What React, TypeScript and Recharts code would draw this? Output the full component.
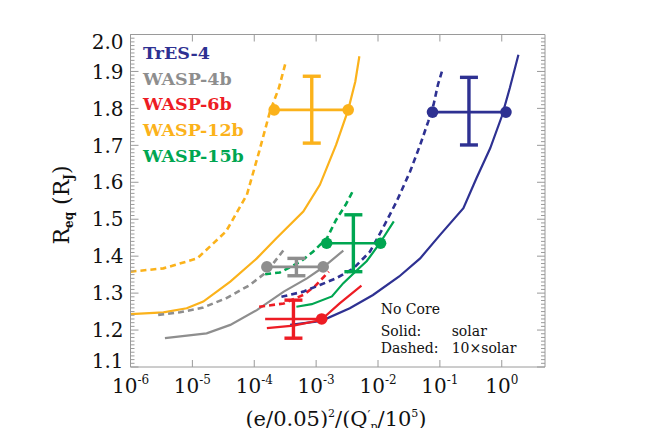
import { ComposedChart, ErrorBar, Line, Scatter, XAxis, YAxis } from "recharts";

const BLUE = "#2e3192";
const GRAY = "#8e8e8e";
const RED = "#ed1c24";
const ORANGE = "#fbb21b";
const GREEN = "#00a651";
const AXIS = "#9a9a9a";
const SERIF = "'DejaVu Serif', serif";

// axis ticks
const xTicks = [1e-6, 1e-5, 1e-4, 1e-3, 1e-2, 1e-1, 1];
const xTickExponents = ["-6", "-5", "-4", "-3", "-2", "-1", "0"];
const yMajorTicks = [1.1, 1.2, 1.3, 1.4, 1.5, 1.6, 1.7, 1.8, 1.9, 2.0];

const yAllTicks: number[] = [];
for (let i = 0; i < yMajorTicks.length - 1; i++) {
  for (let j = 0; j < 10; j++) yAllTicks.push(+(yMajorTicks[i] + j * 0.01).toFixed(2));
}
yAllTicks.push(2.0);

// model curves  [x, R_eq]
const tres4Solar: [number, number][] = [
  [3.8e-4, 1.214], [1.0e-3, 1.223], [1.3e-3, 1.227], [3.5e-3, 1.259], [8.3e-3, 1.295],
  [2.2e-2, 1.345], [4.8e-2, 1.394], [0.1, 1.457], [0.24, 1.53], [0.39, 1.611],
  [0.65, 1.692], [1.0, 1.778], [1.35, 1.855], [1.86, 1.945],
];
const tres4Heavy: [number, number][] = [
  [2.75e-4, 1.29], [6.2e-4, 1.304], [1.15e-3, 1.322], [2.1e-3, 1.34], [4.0e-3, 1.367],
  [7.4e-3, 1.412], [1.2e-2, 1.476], [2.0e-2, 1.548], [3.3e-2, 1.629], [4.8e-2, 1.701],
  [6.5e-2, 1.765], [7.9e-2, 1.81], [9.3e-2, 1.864], [0.112, 1.909],
];
const wasp4Solar: [number, number][] = [
  [3.6e-6, 1.178], [1.7e-5, 1.191], [4.1e-5, 1.214], [1.1e-4, 1.254], [3.0e-4, 1.304],
  [7.1e-4, 1.34], [1.3e-3, 1.37], [2.75e-3, 1.415],
];
const wasp4Heavy: [number, number][] = [
  [2.8e-6, 1.241], [6.3e-6, 1.248], [1.5e-5, 1.261], [3.5e-5, 1.286], [8.5e-5, 1.322],
  [1.6e-4, 1.358], [3.0e-4, 1.417],
];
const wasp6Solar: [number, number][] = [
  [1.6e-4, 1.205], [4.3e-4, 1.212], [1.2e-3, 1.227], [2.4e-3, 1.272], [5.4e-3, 1.32],
];
const wasp6Heavy: [number, number][] = [
  [1.2e-4, 1.263], [3.0e-4, 1.272], [6.2e-4, 1.295], [9.5e-4, 1.318], [1.6e-3, 1.358],
];
const wasp12Solar: [number, number][] = [
  [1e-6, 1.243], [3.4e-6, 1.248], [8.1e-6, 1.259], [1.5e-5, 1.277], [4.1e-5, 1.331],
  [1.1e-4, 1.394], [2.3e-4, 1.449], [6.2e-4, 1.521], [1.15e-3, 1.593], [2.1e-3, 1.701],
  [3.3e-3, 1.796], [4.3e-3, 1.873], [5.0e-3, 1.941],
];
const wasp12Heavy: [number, number][] = [
  [1e-6, 1.358], [3.4e-6, 1.367], [1.2e-5, 1.394], [3.5e-5, 1.467], [7.6e-5, 1.566],
  [1.2e-4, 1.683], [1.8e-4, 1.792], [2.5e-4, 1.855], [3.2e-4, 1.923],
];
const wasp15Solar: [number, number][] = [
  [4.8e-4, 1.263], [8.5e-4, 1.27], [1.8e-3, 1.291], [2.75e-3, 1.327], [4.3e-3, 1.358],
  [6.6e-3, 1.387], [1.07e-2, 1.435], [1.8e-2, 1.494],
];
const wasp15Heavy: [number, number][] = [
  [1.5e-4, 1.351], [2.6e-4, 1.356], [5.6e-4, 1.385], [8.9e-4, 1.412], [1.5e-3, 1.449],
  [2.1e-3, 1.498], [3.0e-3, 1.539], [4.0e-3, 1.579],
];

// observed radii with ranges
const tres4Obs = { y: 1.79, xLo: 0.076, xHi: 1.17, xMid: 0.295, yLo: 1.701, yHi: 1.884 };
const wasp4Obs = { y: 1.371, xLo: 1.6e-4, xHi: 1.3e-3, xMid: 4.8e-4, yLo: 1.347, yHi: 1.394 };
const wasp6Obs = { y: 1.23, xLo: 1.5e-4, xHi: 1.23e-3, xMid: 4.3e-4, yLo: 1.178, yHi: 1.281 };
const wasp12Obs = { y: 1.796, xLo: 2.1e-4, xHi: 3.3e-3, xMid: 8.5e-4, yLo: 1.706, yHi: 1.887 };
const wasp15Obs = { y: 1.435, xLo: 1.48e-3, xHi: 1.1e-2, xMid: 4.0e-3, yLo: 1.358, yHi: 1.512 };

const legendItems = [
  { name: "TrES-4", color: BLUE },
  { name: "WASP-4b", color: GRAY },
  { name: "WASP-6b", color: RED },
  { name: "WASP-12b", color: ORANGE },
  { name: "WASP-15b", color: GREEN },
];

const toPts = (arr: [number, number][]) => arr.map(([x, y]) => ({ x, y }));
const isMajor = (v: number) => Math.abs(v * 10 - Math.round(v * 10)) < 1e-6;

function LeftTick({ x, y, payload }: any) {
  const v = payload.value;
  const major = isMajor(v);
  let dy = 0;
  if (Math.abs(v - 2.0) < 1e-6) dy = 7;
  if (Math.abs(v - 1.1) < 1e-6) dy = -6;
  return (
    <g>
      <line x1={x} x2={x + (major ? 8 : 4)} y1={y} y2={y} stroke={AXIS} />
      {major && (
        <text x={x - 7} y={y + dy} dy="0.36em" textAnchor="end" fontFamily={SERIF} fontSize={20} fill="#111">
          {v.toFixed(1)}
        </text>
      )}
    </g>
  );
}

function RightTick({ x, y, payload }: any) {
  const major = isMajor(payload.value);
  return <line x1={x} x2={x - (major ? 8 : 4)} y1={y} y2={y} stroke={AXIS} />;
}

function BottomTick({ x, y, index }: any) {
  return (
    <g>
      <line x1={x} x2={x} y1={y} y2={y - 7} stroke={AXIS} />
      <text x={x} y={y + 26} textAnchor="middle" fontFamily={SERIF} fontSize={20} fill="#111">
        10
        <tspan fontSize={12} dy={-9}>{xTickExponents[index]}</tspan>
      </text>
    </g>
  );
}

function TopTick({ x, y }: any) {
  return <line x1={x} x2={x} y1={y} y2={y + 7} stroke={AXIS} />;
}

const curve = (key: string, arr: [number, number][], color: string, dashed: boolean) => (
  <Line
    key={key}
    data={toPts(arr)}
    dataKey="y"
    type="linear"
    stroke={color}
    strokeWidth={dashed ? 2.6 : 2.2}
    strokeDasharray={dashed ? "6 4" : undefined}
    dot={false}
    activeDot={false}
    isAnimationActive={false}
  />
);

const obsBar = (key: string, o: typeof tres4Obs, color: string, leftDot: boolean) => [
  <Line
    key={key + "-h"}
    data={[{ x: o.xLo, y: o.y }, { x: o.xHi, y: o.y }]}
    dataKey="y"
    type="linear"
    stroke={color}
    strokeWidth={2.6}
    dot={(p: any) =>
      p.index === 0 && !leftDot ? (
        <g key={key + "d" + p.index} />
      ) : (
        <circle key={key + "d" + p.index} cx={p.cx} cy={p.cy} r={5.8} fill={color} stroke="none" />
      )
    }
    activeDot={false}
    isAnimationActive={false}
  />,
  <Scatter
    key={key + "-v"}
    data={[{ x: o.xMid, y: o.y, err: [o.y - o.yLo, o.yHi - o.y] }]}
    dataKey="y"
    shape={() => <g />}
    isAnimationActive={false}
  >
    <ErrorBar dataKey="err" direction="y" width={9} strokeWidth={3.4} stroke={color} isAnimationActive={false} />
  </Scatter>,
];

export default function App() {
  return (
    <div style={{ position: "relative", width: 638, height: 420 }}>
      <ComposedChart
        width={638}
        height={420}
        margin={{ left: 121.5, right: 100, top: 25.5, bottom: 60 }}
      >
        <XAxis
          dataKey="x"
          type="number"
          scale="log"
          domain={[1e-6, 5]}
          allowDataOverflow
          ticks={xTicks}
          interval={0}
          height={1}
          tickSize={0}
          tickMargin={0}
          axisLine={{ stroke: AXIS }}
          tickLine={false}
          tick={(p: any) => <BottomTick key={"b" + p.index} {...p} />}
        />
        <XAxis
          xAxisId="top"
          orientation="top"
          dataKey="x"
          type="number"
          scale="log"
          domain={[1e-6, 5]}
          allowDataOverflow
          ticks={xTicks}
          interval={0}
          height={1}
          tickSize={0}
          tickMargin={0}
          axisLine={{ stroke: AXIS }}
          tickLine={false}
          tick={(p: any) => <TopTick key={"t" + p.index} {...p} />}
        />
        <YAxis
          type="number"
          domain={[1.1, 2.0]}
          allowDataOverflow
          ticks={yAllTicks}
          interval={0}
          width={1}
          tickSize={0}
          tickMargin={0}
          axisLine={{ stroke: AXIS }}
          tickLine={false}
          tick={(p: any) => <LeftTick key={"l" + p.index} {...p} />}
        />
        <YAxis
          yAxisId="right"
          orientation="right"
          type="number"
          domain={[1.1, 2.0]}
          allowDataOverflow
          ticks={yAllTicks}
          interval={0}
          width={1}
          tickSize={0}
          tickMargin={0}
          axisLine={{ stroke: AXIS }}
          tickLine={false}
          tick={(p: any) => <RightTick key={"r" + p.index} {...p} />}
        />

        {curve("w12h", wasp12Heavy, ORANGE, true)}
        {curve("w12s", wasp12Solar, ORANGE, false)}
        {curve("w4h", wasp4Heavy, GRAY, true)}
        {curve("w4s", wasp4Solar, GRAY, false)}
        {curve("w15h", wasp15Heavy, GREEN, true)}
        {curve("w15s", wasp15Solar, GREEN, false)}
        {curve("w6h", wasp6Heavy, RED, true)}
        {curve("t4h", tres4Heavy, BLUE, true)}
        {curve("t4s", tres4Solar, BLUE, false)}
        {curve("w6s", wasp6Solar, RED, false)}

        {obsBar("o12", wasp12Obs, ORANGE, true)}
        {obsBar("o4", wasp4Obs, GRAY, true)}
        {obsBar("o15", wasp15Obs, GREEN, true)}
        {obsBar("o6", wasp6Obs, RED, false)}
        {obsBar("ot4", tres4Obs, BLUE, true)}
      </ComposedChart>

      {/* legend */}
      <div style={{ position: "absolute", left: 135, top: 33, fontFamily: SERIF, fontWeight: "bold", fontSize: 17.5, lineHeight: "25.7px" }}>
        {legendItems.map((it) => (
          <div key={it.name} style={{ color: it.color, whiteSpace: "nowrap" }}>{it.name}</div>
        ))}
      </div>

      {/* annotation */}
      <div style={{ position: "absolute", left: 372.7, top: 292, fontFamily: SERIF, fontSize: 14, lineHeight: "18px", color: "#111", whiteSpace: "nowrap" }}>
        No Core
      </div>
      <div style={{ position: "absolute", left: 372.7, top: 313.7, fontFamily: SERIF, fontSize: 14, lineHeight: "18px", color: "#111", whiteSpace: "nowrap" }}>
        Solid:
      </div>
      <div style={{ position: "absolute", left: 443.7, top: 313.7, fontFamily: SERIF, fontSize: 14, lineHeight: "18px", color: "#111", whiteSpace: "nowrap" }}>
        solar
      </div>
      <div style={{ position: "absolute", left: 372.7, top: 331, fontFamily: SERIF, fontSize: 14, lineHeight: "18px", color: "#111", whiteSpace: "nowrap" }}>
        Dashed:
      </div>
      <div style={{ position: "absolute", left: 443.7, top: 331, fontFamily: SERIF, fontSize: 14, lineHeight: "18px", color: "#111", whiteSpace: "nowrap" }}>
        10×solar
      </div>

      {/* y axis title */}
      <div
        style={{
          position: "absolute",
          left: 55,
          top: 197,
          transform: "translate(-50%, -50%) rotate(-90deg)",
          fontFamily: SERIF,
          fontSize: 22,
          color: "#111",
          whiteSpace: "nowrap",
          lineHeight: 1,
        }}
      >
        R<span style={{ fontSize: 12, verticalAlign: "-0.35em", fontWeight: "bold" }}>eq</span> (R
        <span style={{ fontSize: 12, verticalAlign: "-0.35em", fontWeight: "bold" }}>J</span>)
      </div>

      {/* x axis title */}
      <div
        style={{
          position: "absolute",
          left: 328,
          top: 412,
          transform: "translate(-50%, -50%)",
          fontFamily: SERIF,
          fontSize: 21,
          color: "#111",
          whiteSpace: "nowrap",
          lineHeight: 1,
        }}
      >
        (e/0.05)<span style={{ fontSize: 11, verticalAlign: "0.8em" }}>2</span>/(Q
        <span style={{ fontSize: 13, verticalAlign: "0.5em" }}>′</span>
        <span style={{ fontSize: 11, verticalAlign: "-0.3em" }}>p</span>/10
        <span style={{ fontSize: 11, verticalAlign: "0.8em" }}>5</span>)
      </div>
    </div>
  );
}
